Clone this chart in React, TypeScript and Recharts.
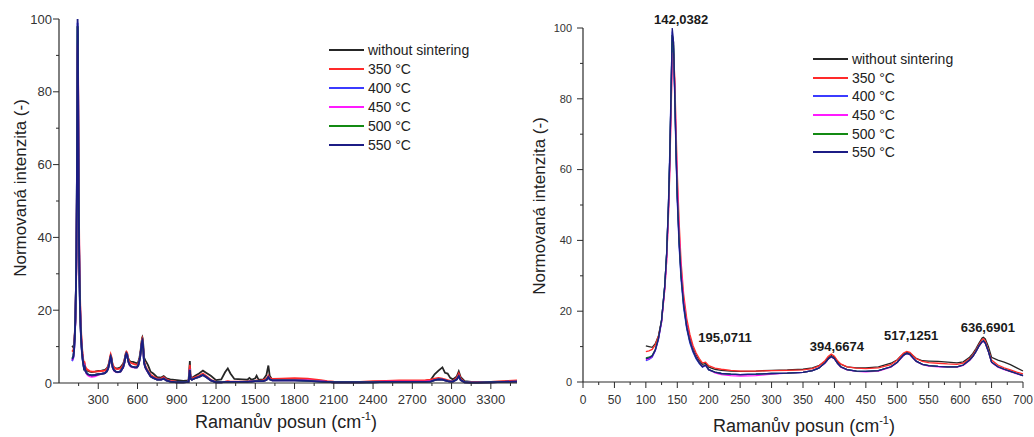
import React from 'react';
import { LineChart, Line, XAxis, YAxis, Legend, Label, ReferenceDot } from 'recharts';

// ---------- data ----------
const seriesNames = ['without sintering', '350 °C', '400 °C', '450 °C', '500 °C', '550 °C'];
const seriesColors = ['#262626', '#ff2a2a', '#3b3bff', '#ff1aff', '#138a13', '#1c1c85'];

// Raman shift (cm-1), 100–700 region (right panel, also start of left panel)
const shiftLow = [100, 105, 110, 115, 120, 125, 130, 133, 136, 138, 140, 142, 144, 146, 148, 150, 153, 156, 160, 165, 170, 175, 180, 185, 190, 195, 200, 210, 220, 235, 250, 275, 300, 325, 350, 365, 375, 385, 390, 395, 400, 405, 410, 420, 435, 450, 470, 490, 500, 505, 510, 515, 520, 525, 530, 540, 550, 565, 580, 595, 605, 615, 620, 625, 630, 635, 637, 640, 645, 650, 660, 670, 680, 690, 700];
const lowBlack = [10.2, 10.0, 9.8, 10.8, 13.0, 17.5, 27, 36, 50, 63, 80, 98, 96, 82, 66, 53, 40, 31, 23, 16.5, 12.5, 9.5, 7.5, 6.0, 5.0, 5.2, 4.2, 3.6, 3.3, 3.1, 3.0, 3.1, 3.3, 3.4, 3.6, 4.0, 4.6, 5.8, 6.8, 7.5, 7.0, 5.8, 5.0, 4.3, 4.0, 4.0, 4.3, 5.3, 6.3, 7.2, 8.0, 8.4, 8.2, 7.4, 6.7, 6.0, 5.9, 5.8, 5.6, 5.4, 5.7, 7.0, 8.0, 9.4, 11.0, 12.4, 12.6, 12.2, 10.0, 7.0, 6.2, 5.6, 4.9, 4.0, 3.1];
const low350 = [8.6, 8.8, 9.2, 10.5, 13.0, 17.0, 26, 34, 47, 59, 75, 90, 93, 86, 72, 59, 45, 34, 25, 18, 13.5, 10.3, 8.2, 6.6, 5.4, 5.6, 4.6, 3.9, 3.6, 3.3, 3.1, 3.1, 3.2, 3.3, 3.4, 3.8, 4.5, 6.0, 7.2, 7.9, 7.3, 6.0, 5.1, 4.3, 3.9, 3.8, 4.0, 4.9, 6.2, 7.2, 8.2, 8.6, 8.4, 7.5, 6.6, 5.8, 5.5, 5.3, 5.1, 5.0, 5.3, 6.6, 7.6, 9.0, 10.6, 12.0, 12.2, 11.6, 9.0, 6.2, 4.8, 4.0, 3.4, 2.8, 2.3];
const low400 = [6.0, 6.4, 7.0, 8.8, 12.0, 17.0, 27, 36, 51, 65, 82, 99, 94, 80, 64, 51, 38, 29, 21, 15, 11, 8.4, 6.5, 5.2, 4.2, 4.6, 3.4, 2.7, 2.4, 2.2, 2.1, 2.2, 2.4, 2.5, 2.7, 3.2, 3.9, 5.4, 6.5, 7.2, 6.6, 5.3, 4.3, 3.5, 3.1, 3.0, 3.2, 4.3, 5.6, 6.6, 7.6, 8.1, 7.8, 6.8, 5.9, 5.0, 4.6, 4.4, 4.3, 4.3, 4.8, 6.2, 7.2, 8.6, 10.2, 11.4, 11.6, 11.0, 8.6, 5.6, 4.3, 3.6, 3.0, 2.4, 1.8];
const low450 = [6.3, 6.6, 7.2, 9.0, 12.2, 17.0, 26, 34, 48, 60, 77, 93, 92, 84, 69, 56, 42, 32, 23, 16, 11.8, 9.0, 7.0, 5.5, 4.4, 4.7, 3.5, 2.6, 2.1, 1.8, 1.7, 1.8, 2.2, 2.5, 2.7, 3.2, 3.9, 5.3, 6.4, 7.1, 6.5, 5.2, 4.2, 3.4, 3.0, 2.9, 3.1, 4.2, 5.5, 6.5, 7.5, 8.0, 7.7, 6.7, 5.8, 4.9, 4.5, 4.3, 4.2, 4.2, 4.7, 6.1, 7.1, 8.5, 10.1, 11.3, 11.5, 10.9, 8.5, 5.5, 4.2, 3.5, 2.9, 2.3, 1.8];
const low500 = [6.8, 7.0, 7.5, 9.2, 12.4, 17.5, 27, 36, 50, 63, 80, 98, 95, 82, 66, 53, 40, 30, 22, 15.5, 11.5, 8.8, 6.8, 5.4, 4.3, 4.8, 3.5, 2.8, 2.4, 2.2, 2.1, 2.2, 2.4, 2.5, 2.7, 3.2, 3.9, 5.4, 6.5, 7.2, 6.6, 5.3, 4.3, 3.5, 3.1, 3.0, 3.2, 4.3, 5.6, 6.6, 7.6, 8.1, 7.8, 6.8, 5.9, 5.0, 4.6, 4.4, 4.3, 4.3, 4.8, 6.2, 7.2, 8.6, 10.2, 11.4, 11.6, 11.0, 8.6, 5.6, 4.3, 3.6, 3.0, 2.4, 1.8];
const low550 = [6.5, 6.8, 7.3, 9.0, 12.2, 17.5, 27, 36, 50, 63, 81, 100, 96, 81, 65, 52, 39, 30, 22, 15.5, 11.5, 8.8, 6.8, 5.4, 4.3, 4.8, 3.5, 2.8, 2.4, 2.2, 2.1, 2.2, 2.4, 2.5, 2.7, 3.2, 3.9, 5.4, 6.5, 7.2, 6.6, 5.3, 4.3, 3.5, 3.1, 3.0, 3.2, 4.3, 5.6, 6.6, 7.6, 8.1, 7.8, 6.8, 5.9, 5.0, 4.6, 4.4, 4.3, 4.3, 4.8, 6.2, 7.2, 8.6, 10.2, 11.4, 11.6, 11.0, 8.6, 5.6, 4.3, 3.6, 3.0, 2.4, 1.8];

// Raman shift (cm-1), 700–3500 region (left panel only)
const shiftHigh = [720, 750, 780, 800, 820, 850, 900, 950, 990, 1000, 1005, 1015, 1040, 1070, 1100, 1130, 1160, 1200, 1240, 1270, 1290, 1310, 1340, 1400, 1440, 1455, 1470, 1500, 1510, 1525, 1560, 1585, 1600, 1610, 1630, 1700, 1800, 1900, 2000, 2050, 2100, 2200, 2300, 2400, 2500, 2600, 2700, 2800, 2840, 2870, 2900, 2930, 2950, 2970, 2990, 3010, 3040, 3055, 3070, 3100, 3150, 3200, 3300, 3400, 3500];
const highBlack = [2.6, 1.6, 1.5, 1.9, 1.3, 1.0, 0.8, 0.6, 0.7, 6.0, 2.0, 1.4, 2.0, 2.6, 3.4, 2.7, 2.0, 0.8, 1.0, 3.0, 4.0, 2.6, 1.1, 1.0, 0.9, 1.4, 0.9, 1.3, 2.0, 0.9, 0.9, 2.2, 4.8, 2.0, 0.9, 0.9, 0.9, 0.8, 0.5, 0.3, 0.2, 0.2, 0.2, 0.3, 0.4, 0.4, 0.5, 0.5, 0.8, 2.4, 3.4, 4.3, 2.8, 2.6, 1.4, 1.0, 1.8, 3.2, 1.6, 0.5, 0.3, 0.3, 0.3, 0.4, 0.5];
const high350 = [1.8, 1.2, 1.2, 1.6, 1.0, 0.6, 0.4, 0.3, 0.4, 5.0, 1.6, 1.2, 1.6, 2.0, 2.6, 1.8, 0.9, 0.3, 0.3, 0.4, 0.5, 0.4, 0.4, 0.4, 0.4, 0.5, 0.5, 0.6, 0.7, 0.6, 0.8, 1.2, 2.0, 1.4, 1.1, 1.2, 1.3, 1.2, 0.8, 0.5, 0.4, 0.3, 0.3, 0.5, 0.6, 0.7, 0.7, 0.8, 0.9, 1.2, 1.4, 1.2, 1.0, 0.8, 0.6, 0.5, 1.5, 2.6, 1.2, 0.3, 0.2, 0.2, 0.3, 0.5, 0.7];
const high400 = [1.4, 0.9, 0.9, 1.2, 0.7, 0.4, 0.2, 0.2, 0.3, 3.6, 1.2, 0.9, 1.3, 1.7, 2.2, 1.5, 0.7, 0.2, 0.2, 0.3, 0.3, 0.3, 0.3, 0.3, 0.3, 0.4, 0.4, 0.5, 0.5, 0.5, 0.5, 0.8, 1.6, 1.0, 0.7, 0.7, 0.7, 0.6, 0.4, 0.3, 0.2, 0.2, 0.2, 0.2, 0.3, 0.3, 0.3, 0.3, 0.4, 0.8, 1.0, 0.9, 0.7, 0.5, 0.4, 0.4, 1.0, 1.9, 0.8, 0.2, 0.1, 0.1, 0.2, 0.3, 0.4];
const high450 = [1.4, 0.9, 0.9, 1.2, 0.7, 0.4, 0.2, 0.2, 0.3, 3.8, 1.2, 0.9, 1.3, 1.7, 2.2, 1.5, 0.7, 0.2, 0.2, 0.3, 0.3, 0.3, 0.3, 0.3, 0.3, 0.4, 0.4, 0.5, 0.5, 0.5, 0.5, 0.8, 1.6, 1.0, 0.7, 0.7, 0.8, 0.7, 0.5, 0.3, 0.2, 0.2, 0.2, 0.3, 0.4, 0.4, 0.4, 0.4, 0.5, 0.8, 1.0, 0.9, 0.7, 0.5, 0.4, 0.4, 1.0, 1.9, 0.8, 0.2, 0.1, 0.1, 0.2, 0.3, 0.4];
const high500 = [1.4, 0.9, 0.9, 1.2, 0.7, 0.4, 0.2, 0.2, 0.3, 3.6, 1.2, 0.9, 1.3, 1.7, 2.2, 1.5, 0.7, 0.2, 0.2, 0.3, 0.3, 0.3, 0.3, 0.3, 0.3, 0.4, 0.4, 0.5, 0.5, 0.5, 0.5, 0.8, 1.6, 1.0, 0.7, 0.7, 0.7, 0.6, 0.4, 0.3, 0.2, 0.2, 0.2, 0.2, 0.3, 0.3, 0.3, 0.3, 0.4, 0.8, 1.0, 0.9, 0.7, 0.5, 0.4, 0.4, 1.0, 1.9, 0.8, 0.2, 0.1, 0.1, 0.2, 0.3, 0.4];
const high550 = [1.4, 0.9, 0.9, 1.2, 0.7, 0.4, 0.2, 0.2, 0.3, 3.6, 1.2, 0.9, 1.3, 1.7, 2.2, 1.5, 0.7, 0.2, 0.2, 0.3, 0.3, 0.3, 0.3, 0.3, 0.3, 0.4, 0.4, 0.5, 0.5, 0.5, 0.5, 0.8, 1.6, 1.0, 0.7, 0.7, 0.7, 0.6, 0.4, 0.3, 0.2, 0.2, 0.2, 0.2, 0.3, 0.3, 0.3, 0.3, 0.4, 0.8, 1.0, 0.9, 0.7, 0.5, 0.4, 0.4, 1.0, 1.9, 0.8, 0.2, 0.1, 0.1, 0.2, 0.3, 0.4];

// peak annotations (right panel)
const peakLabels = ['142,0382', '195,0711', '394,6674', '517,1251', '636,6901'];
const peakLabelX = [156, 226, 404, 522, 644];
const peakLabelY = [102.3, 12.7, 10.2, 13.3, 15.3];

// ticks
const leftXMajor = [300, 600, 900, 1200, 1500, 1800, 2100, 2400, 2700, 3000, 3300];
const leftXMinor = [150, 450, 750, 1050, 1350, 1650, 1950, 2250, 2550, 2850, 3150, 3450];
const rightXMajor = [0, 50, 100, 150, 200, 250, 300, 350, 400, 450, 500, 550, 600, 650, 700];
const rightXMinor = [25, 75, 125, 175, 225, 275, 325, 375, 425, 475, 525, 575, 625, 675];
const yMajor = [0, 20, 40, 60, 80, 100];
const yMinor = [10, 30, 50, 70, 90];

// ---------- build tables ----------
const lowSeries = [lowBlack, low350, low400, low450, low500, low550];
const highSeries = [highBlack, high350, high400, high450, high500, high550];
const keys = ['s0', 's1', 's2', 's3', 's4', 's5'];

const lowData = shiftLow.map((x, i) => {
  const row: any = { x };
  keys.forEach((k, j) => (row[k] = lowSeries[j][i]));
  return row;
});
const highData = shiftHigh.map((x, i) => {
  const row: any = { x };
  keys.forEach((k, j) => (row[k] = highSeries[j][i]));
  return row;
});
const leftData = [...lowData, ...highData];
const rightData = lowData;

const FONT = "Arial, 'Liberation Sans', sans-serif";
const AXIS = '#2b2b2b';

const sortNum = (a: number[], b: number[]) => [...a, ...b].sort((p, q) => p - q);

const makeXTick = (majors: number[], fontSize: number, gap: number) => (props: any) => {
  const { x, y, payload } = props;
  const major = majors.includes(payload.value);
  return (
    <g>
      <line x1={x} y1={y} x2={x} y2={y + (major ? 6 : 3)} stroke={AXIS} strokeWidth={1} />
      {major && (
        <text x={x} y={y + gap} dy="0.71em" textAnchor="middle" fontSize={fontSize} fontFamily={FONT} fill="#333">
          {payload.value}
        </text>
      )}
    </g>
  );
};

const makeYTick = (majors: number[], fontSize: number, gap: number) => (props: any) => {
  const { x, y, payload } = props;
  const major = majors.includes(payload.value);
  return (
    <g>
      <line x1={x} y1={y} x2={x - (major ? 6 : 3)} y2={y} stroke={AXIS} strokeWidth={1} />
      {major && (
        <text x={x - gap} y={y} dy="0.35em" textAnchor="end" fontSize={fontSize} fontFamily={FONT} fill="#333">
          {payload.value}
        </text>
      )}
    </g>
  );
};

const yTitle = (cx: number, cy: number) => () => (
  <text
    x={cx}
    y={cy}
    transform={`rotate(-90 ${cx} ${cy})`}
    textAnchor="middle"
    dominantBaseline="central"
    fontSize={17}
    fontFamily={FONT}
    fill="#222"
  >
    Normovaná intenzita (-)
  </text>
);

const xTitle = (cx: number, baseline: number) => () => (
  <text x={cx} y={baseline} textAnchor="middle" fontSize={18} fontFamily={FONT} fill="#222">
    Ramanův posun (cm
    <tspan fontSize={11} dy={-8}>-1</tspan>
    <tspan dy={8}>)</tspan>
  </text>
);

const makeLegend = (rowH: number) => (props: any) => {
  const payload = [...(props.payload || [])].sort(
    (a: any, b: any) => seriesNames.indexOf(a.value) - seriesNames.indexOf(b.value)
  );
  return (
    <div style={{ fontFamily: FONT }}>
      {payload.map((p: any, i: number) => (
        <div key={i} style={{ display: 'flex', alignItems: 'center', height: rowH }}>
          <svg width={35} height={4} style={{ display: 'block' }}>
            <line x1={0} y1={2} x2={35} y2={2} stroke={p.color} strokeWidth={2.2} />
          </svg>
          <span style={{ fontSize: 14, color: '#222', marginLeft: 4, lineHeight: '14px' }}>{p.value}</span>
        </div>
      ))}
    </div>
  );
};

const renderLines = (w: number) =>
  keys.map((k, j) => (
    <Line
      key={k}
      type="linear"
      dataKey={k}
      name={seriesNames[j]}
      stroke={seriesColors[j]}
      strokeWidth={w}
      dot={false}
      activeDot={false}
      isAnimationActive={false}
    />
  ));

export default function App() {
  return (
    <div style={{ position: 'absolute', left: 0, top: 0, width: 1034, height: 437, background: '#fff' }}>
      <div style={{ position: 'absolute', left: 0, top: 0 }}>
        <LineChart width={520} height={437} data={leftData} margin={{ top: 19, right: 3, bottom: 0, left: 0 }}>
          <XAxis
            dataKey="x"
            type="number"
            domain={[0, 3500]}
            ticks={sortNum(leftXMajor, leftXMinor)}
            interval={0}
            height={54}
            tickSize={0}
            tickMargin={0}
            axisLine={{ stroke: AXIS, strokeWidth: 1.2 }}
            tickLine={false}
            tick={makeXTick(leftXMajor, 13, 12)}
          >
            <Label content={xTitle(286, 428)} />
          </XAxis>
          <YAxis
            type="number"
            domain={[0, 100]}
            ticks={sortNum(yMajor, yMinor)}
            interval={0}
            width={59}
            tickSize={0}
            tickMargin={0}
            axisLine={{ stroke: AXIS, strokeWidth: 1.2 }}
            tickLine={false}
            tick={makeYTick(yMajor, 13, 7)}
          >
            <Label content={yTitle(20, 188)} />
          </YAxis>
          <Legend
            layout="vertical"
            verticalAlign="middle"
            align="center"
            content={makeLegend(19)}
            wrapperStyle={{ position: 'absolute', top: 40, left: 329, width: 190, height: 'auto' }}
          />
          {renderLines(1.8)}
        </LineChart>
      </div>
      <div style={{ position: 'absolute', left: 520, top: 0 }}>
        <LineChart width={514} height={437} data={rightData} margin={{ top: 28, right: 11, bottom: 0, left: 0 }}>
          <XAxis
            dataKey="x"
            type="number"
            domain={[0, 700]}
            ticks={sortNum(rightXMajor, rightXMinor)}
            interval={0}
            height={55}
            tickSize={0}
            tickMargin={0}
            axisLine={{ stroke: AXIS, strokeWidth: 1.2 }}
            tickLine={false}
            tick={makeXTick(rightXMajor, 12, 13)}
          >
            <Label content={xTitle(284, 432)} />
          </XAxis>
          <YAxis
            type="number"
            domain={[0, 100]}
            ticks={sortNum(yMajor, yMinor)}
            interval={0}
            width={63}
            tickSize={0}
            tickMargin={0}
            axisLine={{ stroke: AXIS, strokeWidth: 1.2 }}
            tickLine={false}
            tick={makeYTick(yMajor, 11, 11)}
          >
            <Label content={yTitle(19, 206)} />
          </YAxis>
          <Legend
            layout="vertical"
            verticalAlign="middle"
            align="center"
            content={makeLegend(18.6)}
            wrapperStyle={{ position: 'absolute', top: 50, left: 293, width: 200, height: 'auto' }}
          />
          {renderLines(1.3)}
          {peakLabels.map((t, i) => (
            <ReferenceDot
              key={t}
              x={peakLabelX[i]}
              y={peakLabelY[i]}
              r={0}
              ifOverflow="visible"
              fill="none"
              stroke="none"
              label={{ value: t, position: 'center', fontSize: 13, fontWeight: 'bold', fontFamily: FONT, fill: '#1a1a1a' }}
            />
          ))}
        </LineChart>
      </div>
    </div>
  );
}
